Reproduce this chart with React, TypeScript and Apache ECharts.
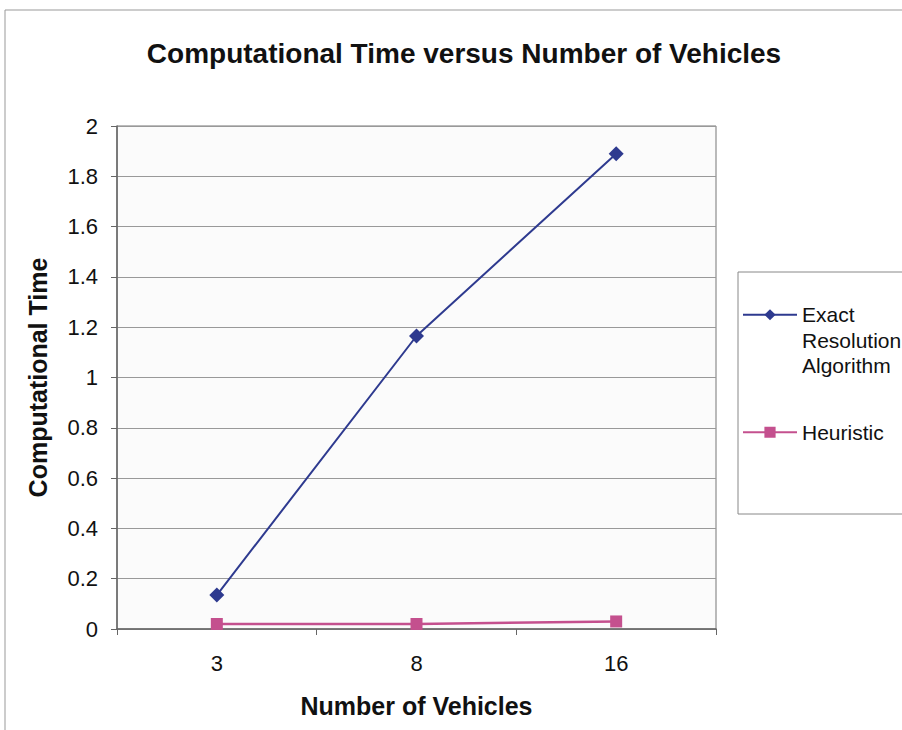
import React, { useEffect, useRef } from "react";
import * as echarts from "echarts";

const categories = ["3", "8", "16"];
const exactValues = [0.135, 1.165, 1.89];
const heuristicValues = [0.02, 0.02, 0.03];
const seriesNames = ["Exact Resolution Algorithm", "Heuristic"];
const legendLabels = ["\n\nExact\nResolution\nAlgorithm", "Heuristic"];

export default function App() {
  const ref = useRef<HTMLDivElement>(null);
  useEffect(() => {
    if (!ref.current) return;
    const chart = echarts.init(ref.current, null, { renderer: "svg" });
    const font = "'Liberation Sans', Arial, sans-serif";
    chart.setOption({
      animation: false,
      backgroundColor: "#ffffff",
      title: {
        text: "Computational Time versus Number of Vehicles",
        left: 459,
        textAlign: "center",
        top: 34,
        textStyle: { fontFamily: font, fontSize: 28, fontWeight: "bold", color: "#111" },
      },
      grid: {
        left: 117,
        top: 126,
        width: 599,
        height: 503,
        show: true,
        backgroundColor: "#fbfbfb",
        borderColor: "#777",
        borderWidth: 1,
      },
      legend: {
        orient: "vertical",
        left: 742,
        top: 251,
        padding: 0,
        itemGap: 41,
        itemWidth: 54,
        itemHeight: 14,
        itemStyle: { borderWidth: 0 },
        textStyle: { fontFamily: font, fontSize: 21, color: "#111", lineHeight: 25.5 },
        formatter: (name: string) => legendLabels[seriesNames.indexOf(name)],
        data: [{ name: seriesNames[0] }, { name: seriesNames[1] }],
      },
      graphic: [
        {
          type: "rect",
          shape: { x: 5, y: 10, width: 910, height: 730 },
          style: { fill: "none", stroke: "#999", lineWidth: 1 },
          silent: true,
        },
        {
          type: "rect",
          shape: { x: 738, y: 272, width: 180, height: 242 },
          style: { fill: "none", stroke: "#888", lineWidth: 1 },
          silent: true,
        },
      ],
      xAxis: {
        type: "category",
        data: categories,
        boundaryGap: true,
        name: "Number of Vehicles",
        nameLocation: "middle",
        nameGap: 64,
        nameTextStyle: { fontFamily: font, fontSize: 25, fontWeight: "bold", color: "#111" },
        axisLine: { lineStyle: { color: "#666", width: 1.5 } },
        axisTick: { show: true, length: 6, lineStyle: { color: "#666" } },
        axisLabel: { fontFamily: font, fontSize: 22, color: "#111", margin: 23 },
      },
      yAxis: {
        type: "value",
        min: 0,
        max: 2,
        interval: 0.2,
        name: "Computational Time",
        nameLocation: "middle",
        nameGap: 67,
        nameTextStyle: { fontFamily: font, fontSize: 25, fontWeight: "bold", color: "#111" },
        axisLine: { show: true, lineStyle: { color: "#666", width: 1.5 } },
        axisTick: { show: true, length: 6, lineStyle: { color: "#666" } },
        axisLabel: {
          fontFamily: font,
          fontSize: 22,
          color: "#111",
          margin: 19,
          formatter: (v: number) => String(Math.round(v * 10) / 10),
        },
        splitLine: { show: true, lineStyle: { color: "#999", width: 1 } },
      },
      series: [
        {
          name: seriesNames[0],
          type: "line",
          data: exactValues,
          symbol: "diamond",
          symbolSize: 15,
          lineStyle: { color: "#2e3a8f", width: 2 },
          itemStyle: { color: "#2e3a8f" },
        },
        {
          name: seriesNames[1],
          type: "line",
          data: heuristicValues,
          symbol: "rect",
          symbolSize: 12,
          lineStyle: { color: "#c4508e", width: 2.5 },
          itemStyle: { color: "#c4508e" },
        },
      ],
    });
    return () => chart.dispose();
  }, []);
  return (
    <div
      ref={ref}
      style={{ position: "fixed", left: 0, top: 0, width: 902, height: 730 }}
    />
  );
}
